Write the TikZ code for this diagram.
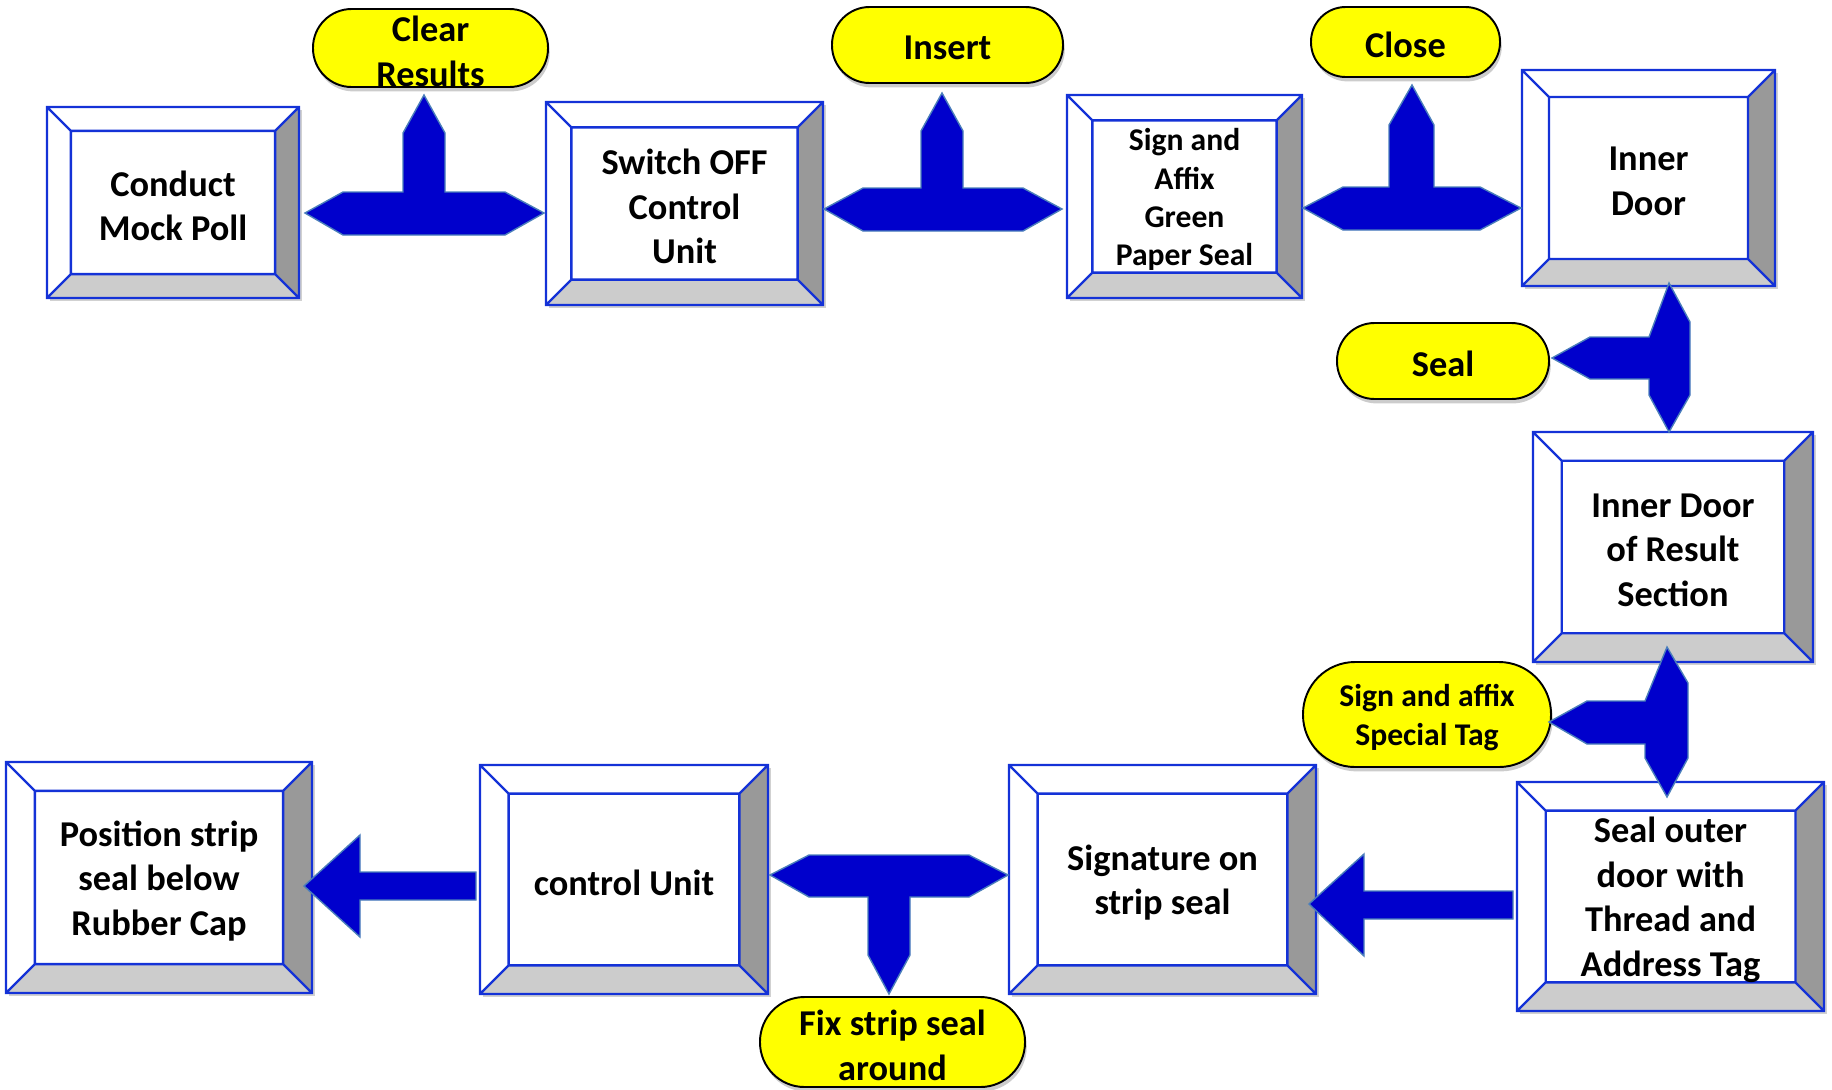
\documentclass[tikz,border=0pt]{standalone}
\usepackage{fontspec}
\setmainfont{Carlito}
\usetikzlibrary{shadows}

\definecolor{boxblue}{RGB}{20,50,215}
\definecolor{arrowfill}{RGB}{0,0,204}
\definecolor{arrowedge}{RGB}{74,126,187}
\definecolor{bevdark}{RGB}{153,153,153}
\definecolor{bevlight}{RGB}{204,204,204}
\definecolor{pillyellow}{RGB}{255,255,0}

\tikzset{
  bevline/.style={draw=boxblue, line width=1.3pt, line join=miter},
  boxshade/.style={fill=black, opacity=0.18},
  boxtext/.style={align=center, inner sep=0pt, yshift=-1.8pt,
    font=\bfseries\fontsize{20.7}{25.3}\selectfont},
  smalltext/.style={font=\bfseries\fontsize{18}{21.9}\selectfont},
  blockarrow/.style={fill=arrowfill, draw=arrowedge, line width=0.8pt, line join=miter},
  pillshape/.style={fill=pillyellow, draw=black, line width=1.1pt,
    drop shadow={shadow xshift=1pt, shadow yshift=-2.5pt, opacity=0.4}},
}

% bevelled box: [text style] {name}{x1}{y1}{x2}{y2}{text}
\newcommand\bevelbox[7][]{%
  \pgfmathsetmacro\bxw{#5-#3}%
  \pgfmathsetmacro\bxh{#6-#4}%
  \pgfmathsetmacro\bxb{0.125*min(\bxw,\bxh)}%
  \fill[boxshade] ({#3+3},{#4+3}) rectangle ({#5+3},{#6+3});
  \fill[white] (#3,#4) rectangle (#5,#6);
  \fill[bevdark] (#5,#4) -- (#5,#6) -- ({#5-\bxb},{#6-\bxb}) -- ({#5-\bxb},{#4+\bxb}) -- cycle;
  \fill[bevlight] (#3,#6) -- (#5,#6) -- ({#5-\bxb},{#6-\bxb}) -- ({#3+\bxb},{#6-\bxb}) -- cycle;
  \draw[bevline] (#3,#4) rectangle (#5,#6)
    ({#3+\bxb},{#4+\bxb}) rectangle ({#5-\bxb},{#6-\bxb})
    (#3,#4) -- ++(\bxb,\bxb)
    (#5,#4) -- ++(-\bxb,\bxb)
    (#5,#6) -- ++(-\bxb,-\bxb)
    (#3,#6) -- ++(\bxb,-\bxb);
  \node[boxtext,#1] (#2) at ({(#3+#5)/2},{(#4+#6)/2}) {#7};
}

% rounded label: [text style] {name}{x1}{y1}{x2}{y2}{text}
\newcommand\pilllabel[7][]{%
  \pgfmathsetmacro\plr{(#6-#4)*0.0099}%
  \draw[pillshape, rounded corners=\plr cm] (#3,#4) rectangle (#5,#6);
  \node[boxtext,#1] (#2) at ({(#3+#5)/2},{(#4+#6)/2}) {#7};
}

\begin{document}
\begin{tikzpicture}[x=0.02cm, y=-0.02cm]
\useasboundingbox (0,0) rectangle (1832,1089);

% process boxes
\bevelbox{conduct}{47}{107}{299}{298}{Conduct\\Mock Poll}
\bevelbox{switchoff}{546}{102}{823}{305}{Switch OFF\\Control\\Unit}
\bevelbox[smalltext]{signaffix}{1067}{95}{1302}{298}{Sign and\\Affix\\Green\\Paper Seal}
\bevelbox{innerdoor}{1522}{70}{1775}{286}{Inner\\Door}
\bevelbox{resultdoor}{1533}{432}{1813}{662}{Inner Door\\of Result\\Section}
\bevelbox{outerdoor}{1517}{782}{1824}{1011}{Seal outer\\door with\\Thread and\\Address Tag}
\bevelbox{signature}{1009}{765}{1316}{994}{Signature on\\strip seal}
\bevelbox{controlunit}{480}{765}{768}{994}{control Unit}
\bevelbox{position}{6}{762}{312}{993}{Position strip\\seal below\\Rubber Cap}

% action labels
\pilllabel{clear}{313}{9}{548}{87}{Clear\\Results}
\pilllabel{insert}{832}{7}{1063}{83}{Insert}
\pilllabel{close}{1311}{7}{1500}{77}{Close}
\pilllabel{seal}{1337}{323}{1549}{399}{Seal}
\pilllabel[smalltext]{specialtag}{1303}{662}{1551}{767}{Sign and affix\\Special Tag}
\pilllabel{fixstrip}{760}{997}{1025}{1087}{Fix strip seal\\around}

% block arrows
\draw[blockarrow] (305,213) -- (343,192) -- (403,192) -- (403,133) -- (424,95) -- (445,133)
  -- (445,192) -- (505,192) -- (544,213) -- (505,235) -- (343,235) -- cycle;
\draw[blockarrow] (824,209) -- (863,188) -- (921,188) -- (921,131) -- (942,93) -- (963,131)
  -- (963,188) -- (1023,188) -- (1062,209) -- (1023,231) -- (863,231) -- cycle;
\draw[blockarrow] (1303,208) -- (1343,187) -- (1389,187) -- (1389,125) -- (1412,85) -- (1434,125)
  -- (1434,187) -- (1480,187) -- (1521,208) -- (1480,230) -- (1343,230) -- cycle;
\draw[blockarrow] (1669,283) -- (1690,322) -- (1690,395) -- (1669,432) -- (1649,395)
  -- (1649,379) -- (1590,379) -- (1552,358) -- (1590,337) -- (1649,337) -- cycle;
\draw[blockarrow] (1667,647) -- (1688,683) -- (1688,758) -- (1667,797) -- (1645,758)
  -- (1645,744) -- (1587,744) -- (1549,722) -- (1587,701) -- (1645,701) -- cycle;
\draw[blockarrow] (1309,904) -- (1364,854) -- (1364,891) -- (1513,891) -- (1513,919)
  -- (1364,919) -- (1364,956) -- cycle;
\draw[blockarrow] (770,875) -- (809,855) -- (969,855) -- (1008,875) -- (969,897) -- (910,897)
  -- (910,955) -- (889,994) -- (868,955) -- (868,897) -- (809,897) -- cycle;
\draw[blockarrow] (304,886) -- (360,835) -- (360,872) -- (476,872) -- (476,900)
  -- (360,900) -- (360,937) -- cycle;
\end{tikzpicture}
\end{document}
